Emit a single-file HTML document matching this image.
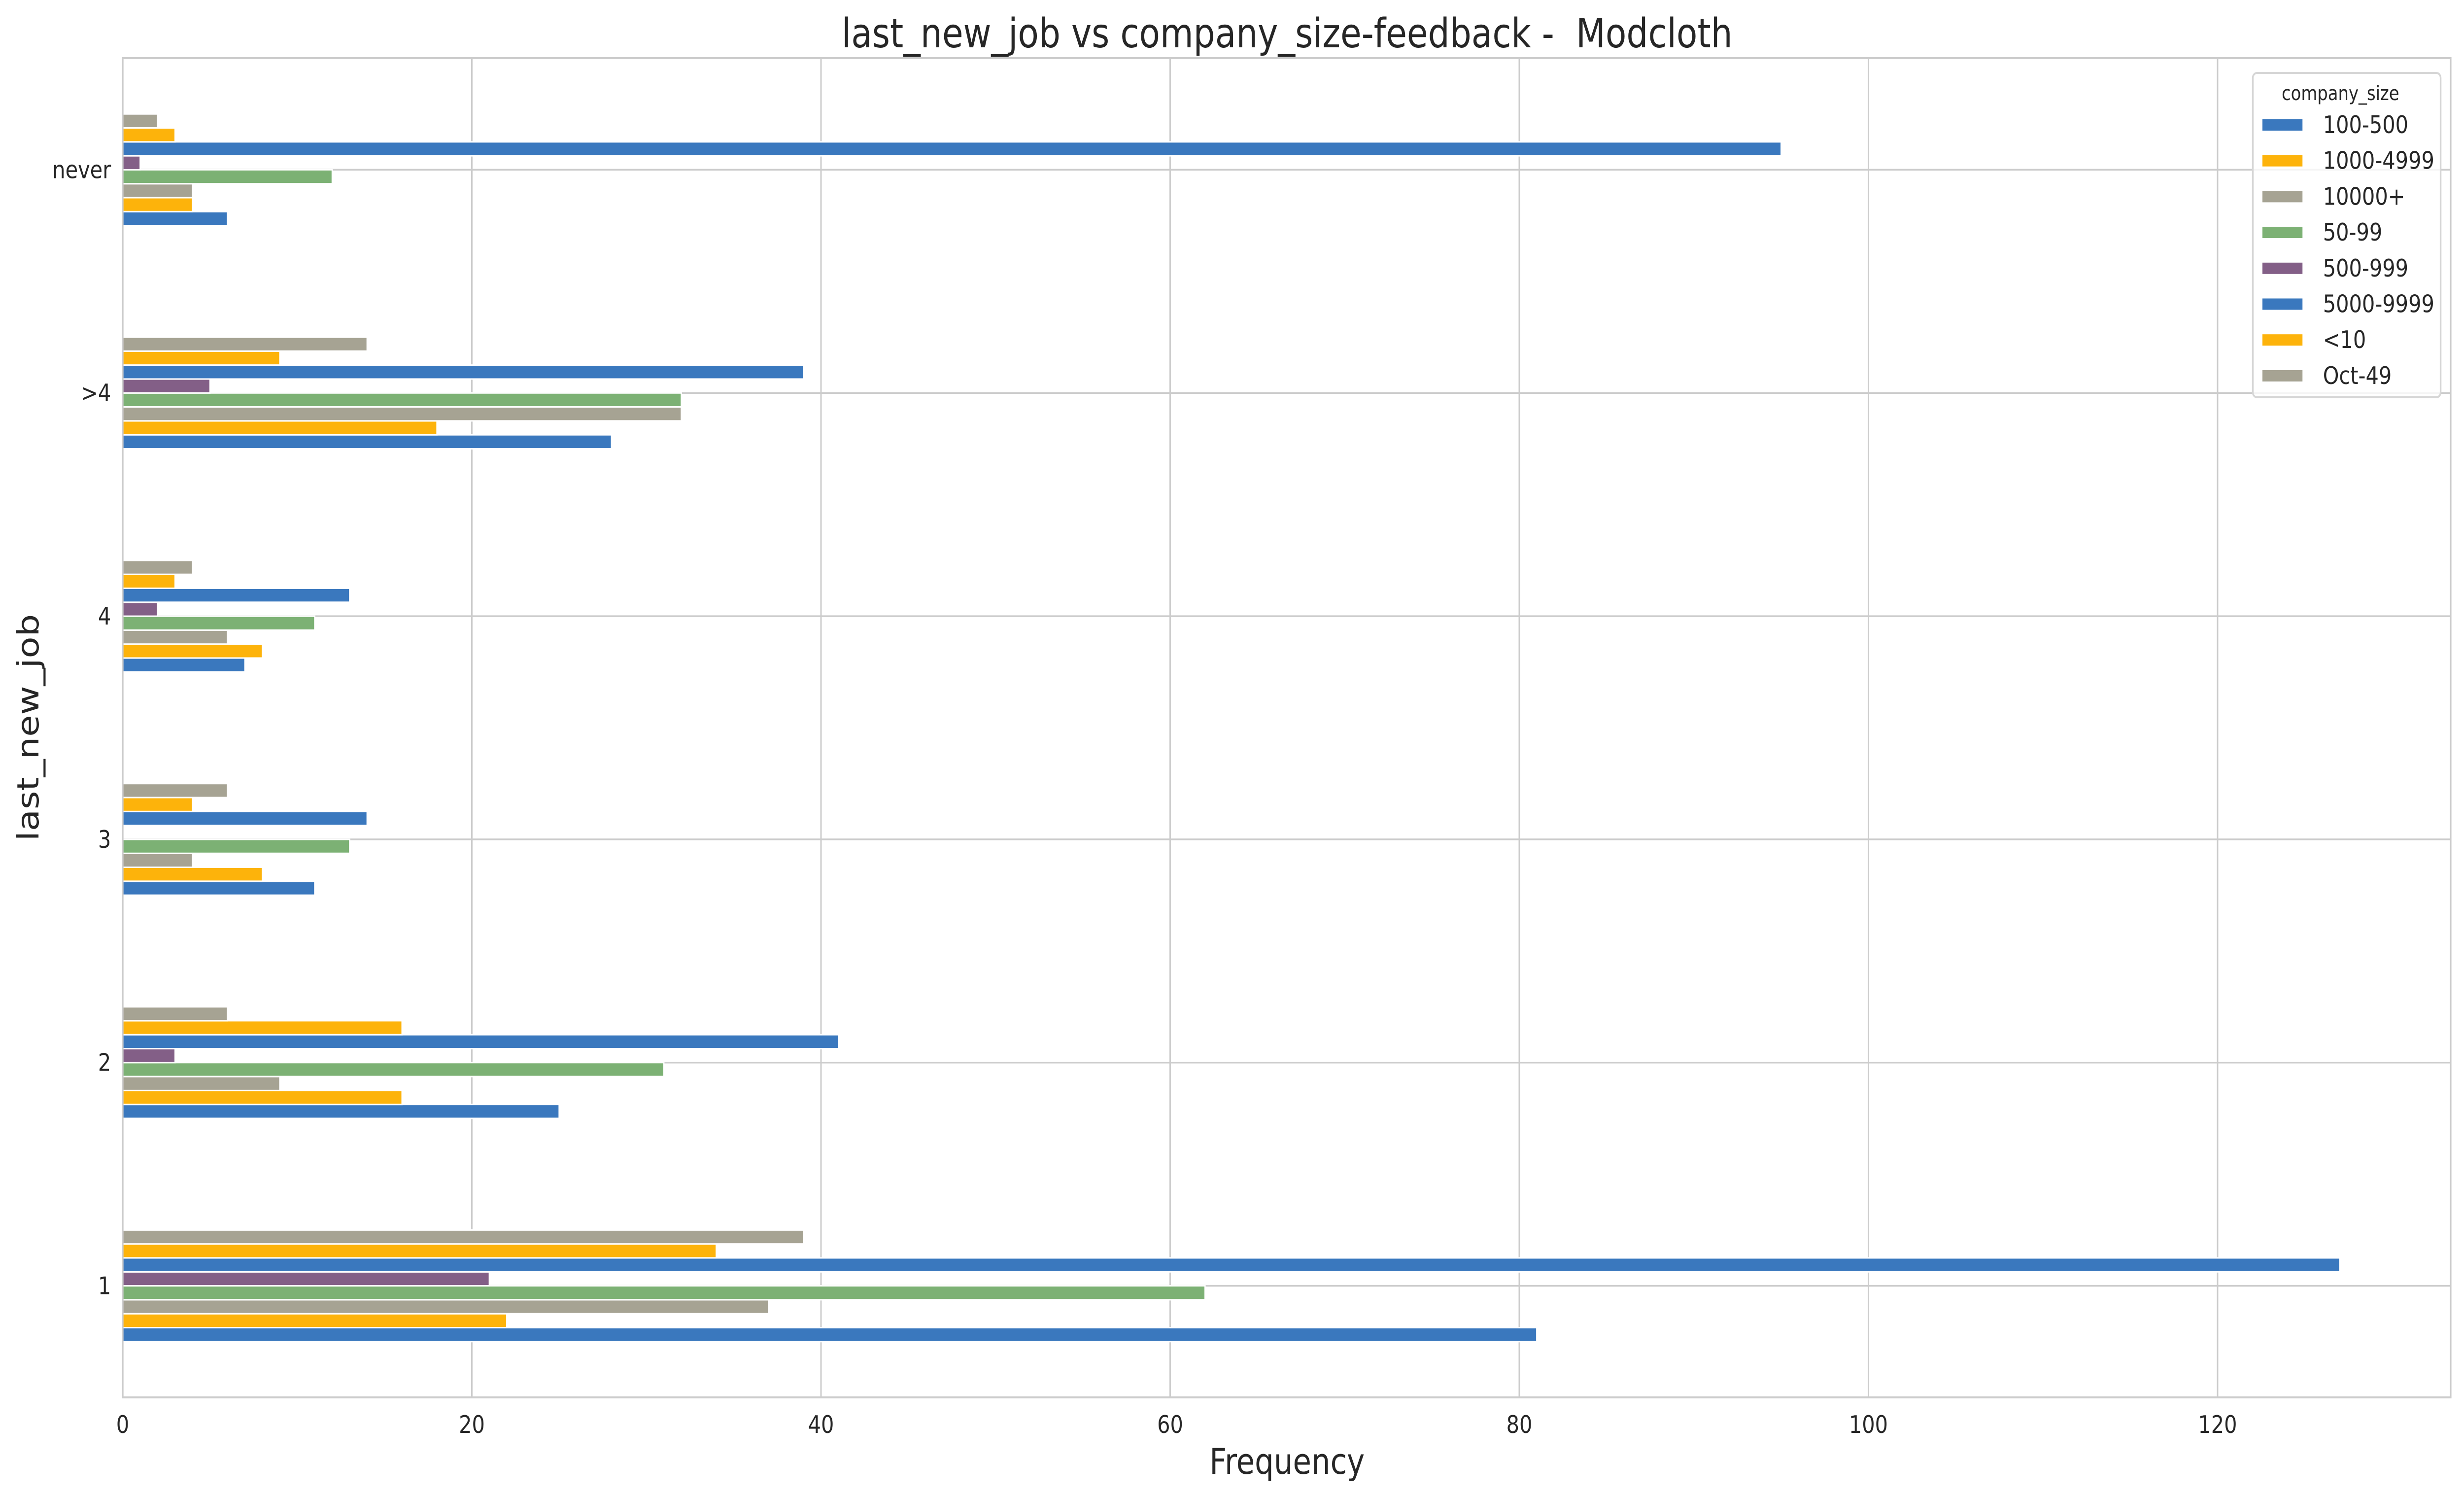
<!DOCTYPE html>
<html><head><meta charset="utf-8">
<style>html,body{margin:0;padding:0;background:#fff;width:100%;height:100%;overflow:hidden;}svg{display:block;width:100vw;height:100vh;font-family:"DejaVu Sans","Liberation Sans",sans-serif;}</style>
</head><body>
<svg id="chart" viewBox="0 0 5904 3033" preserveAspectRatio="none" xmlns="http://www.w3.org/2000/svg">
<rect width="5904" height="3033" fill="#fff"/>
<g id="grid"></g>
<g id="bars"></g>
<g id="axes"></g>
<g id="legend"></g>
<text x="3084" y="96" font-size="82" text-anchor="middle" fill="#262626" xml:space="preserve">last_new_job vs company_size-feedback -  Modcloth</text>
<text x="3084" y="2990" font-size="72" text-anchor="middle" fill="#262626">Frequency</text>
<text x="0" y="0" font-size="72" text-anchor="middle" fill="#262626" transform="translate(92,1476) rotate(-90)">last_new_job</text>
</svg>
<script>
const categories = ["1","2","3","4",">4","never"];
const seriesNames = ["100-500","1000-4999","10000+","50-99","500-999","5000-9999","<10","Oct-49"];
const s100_500 = [81,25,11,7,28,6];
const s1000_4999 = [22,16,8,8,18,4];
const s10000p = [37,9,4,6,32,4];
const s50_99 = [62,31,13,11,32,12];
const s500_999 = [21,3,0,2,5,1];
const s5000_9999 = [127,41,14,13,39,95];
const sLt10 = [34,16,4,3,9,3];
const sOct49 = [39,6,6,4,14,2];
const xTicks = [0,20,40,60,80,100,120];
const seriesValues = [s100_500,s1000_4999,s10000p,s50_99,s500_999,s5000_9999,sLt10,sOct49];
const colors = ["#3a78be","#fdb30b","#a6a393","#7cb174","#835f87","#3a78be","#fdb30b","#a6a393"];

const NS="http://www.w3.org/2000/svg";
const L=294,R=5872,T=118,B=2835;
const xmax=133.35;
const x=v=>L+v/xmax*(R-L);
const step=(B-T)/categories.length;
const y=i=>B-(i+0.5)*step;
function mk(tag,attrs,parent){const e=document.createElementNS(NS,tag);for(const k in attrs)e.setAttribute(k,attrs[k]);parent.appendChild(e);return e;}
const grid=document.getElementById('grid'),bars=document.getElementById('bars'),axes=document.getElementById('axes'),leg=document.getElementById('legend');

xTicks.forEach(t=>{
  const l=mk('line',{x1:x(t),x2:x(t),y1:T,y2:B,stroke:'#cccccc','stroke-width':3.5},grid);
  
  
  const tx=mk('text',{x:x(t),y:B+72,'font-size':49,'text-anchor':'middle',fill:'#262626'},axes);
  tx.textContent=t;
  
  
});
categories.forEach((c,i)=>{
  const l=mk('line',{x1:L,x2:R,y1:y(i),y2:y(i),stroke:'#cccccc','stroke-width':3.5},grid);
  
  
  const tx=mk('text',{x:L-28,y:y(i)+17,'font-size':49,'text-anchor':'end',fill:'#262626'},axes);
  tx.textContent=c;
  
  
});
const n=seriesValues.length, bw=step*0.5/n;
seriesValues.forEach((vals,s)=>{
  vals.forEach((v,i)=>{
    const yc=y(i)+step*0.25-(s+0.5)*bw;
    const r=mk('rect',{x:x(0),y:yc-bw/2,width:Math.max(0,x(v)-x(0)),height:bw,fill:colors[s],stroke:'#fff','stroke-width':3},bars);
    
    
  });
});
const fr=mk('rect',{x:L,y:T,width:R-L,height:B-T,fill:'none',stroke:'#cccccc','stroke-width':4},axes);



const lx=5398,ly=148,lw=450,lh=658;
const box=mk('rect',{x:lx,y:ly,width:lw,height:lh,rx:10,fill:'#fff','fill-opacity':0.8,stroke:'#d6d6d6','stroke-width':4},leg);


const lt=mk('text',{x:lx+lw/2-15,y:ly+55,'font-size':40,'text-anchor':'middle',fill:'#262626'},leg);
lt.textContent='company_size';


seriesNames.forEach((nm,s)=>{
  const yy=ly+94+s*72.7;
  const sw=mk('rect',{x:lx+23,y:yy,width:96,height:23,fill:colors[s]},leg);
  
  
  const t=mk('text',{x:lx+168,y:yy+28,'font-size':49,fill:'#262626'},leg);
  t.textContent=nm;
  
  
});
</script>
</body></html>
